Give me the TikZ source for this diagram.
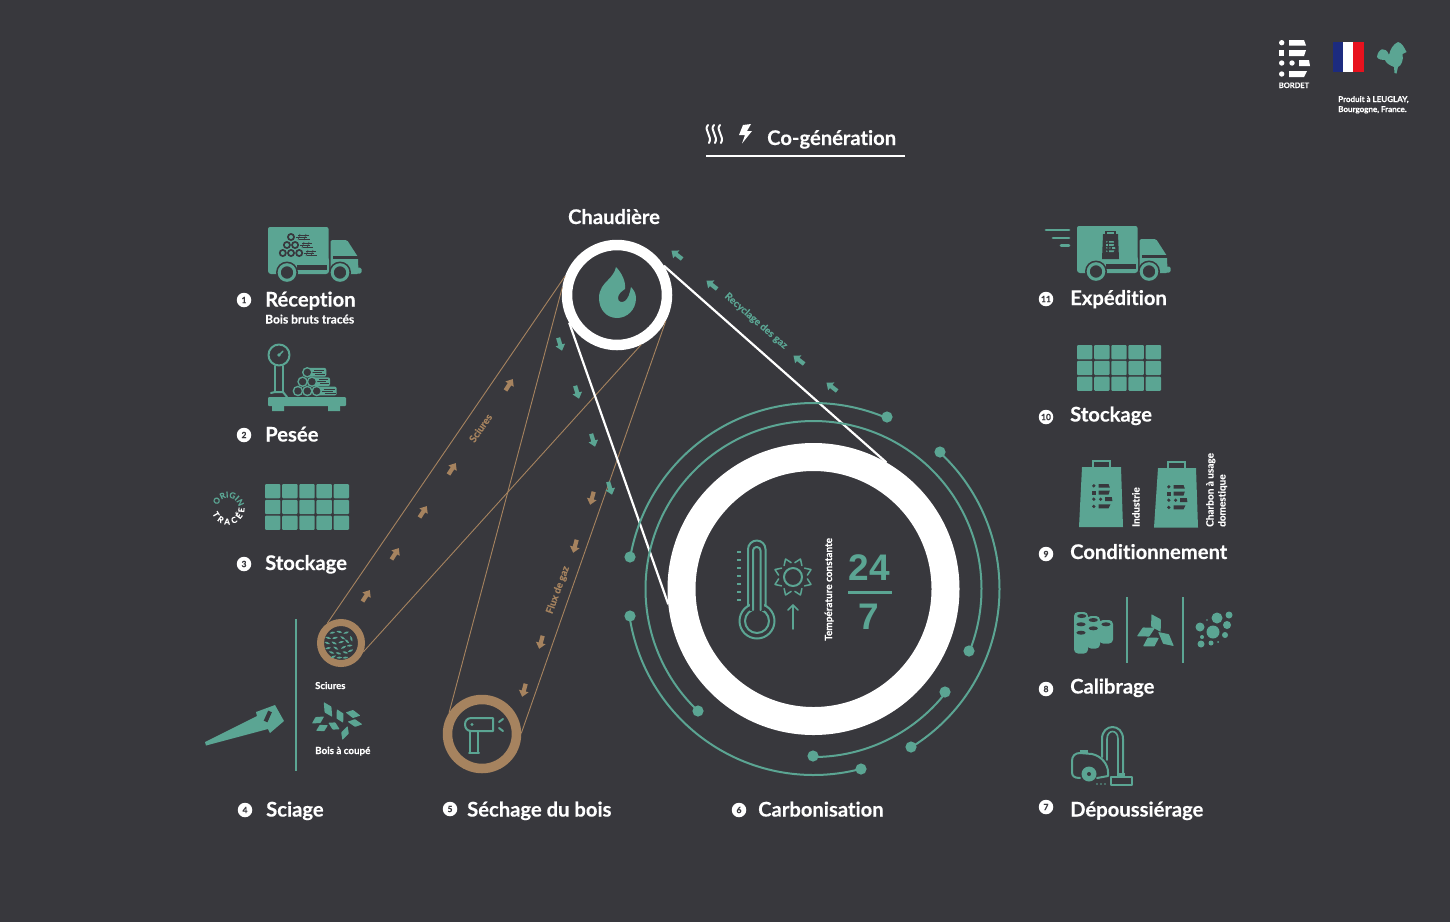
\documentclass[tikz,border=0pt]{standalone}
\usepackage{fontspec}
\setmainfont{Lato}[Ligatures=NoCommon,BoldFeatures={FakeBold=0.25}]
\newfontfamily\helv{Liberation Sans}
\usetikzlibrary{decorations.text}
\definecolor{bgc}{HTML}{38383D}
\definecolor{tl}{HTML}{5BA593}
\definecolor{br}{HTML}{A6835F}
\definecolor{frb}{HTML}{1C2B7F}
\definecolor{frr}{HTML}{E8121E}
\tikzset{
  lab/.style={font=\bfseries\fontsize{20.2}{24}\selectfont,text=white,anchor=base west,inner sep=0pt},
  sublab/.style={font=\bfseries\fontsize{#1}{12}\selectfont,text=white,anchor=base west,inner sep=0pt},
  badge/.style={circle,fill=white,text=bgc,inner sep=0pt,minimum size=14.5pt,font=\bfseries\fontsize{8.5}{9}\selectfont},
  ring/.style={circle,draw=#1,inner sep=0pt,fill=none},
  brline/.style={draw=br,line width=.9pt},
  wline/.style={draw=white,line width=2.2pt},
  tarc/.style={draw=tl,line width=2pt},
  ticon/.style={draw=tl,line width=2pt,line cap=round,line join=round},
  flowtxt/.style={font=\bfseries\fontsize{#1}{12}\selectfont,inner sep=0pt},
  rottxt/.style={rotate=90,anchor=base west,font=\bfseries\fontsize{10}{11}\selectfont,text=white,inner sep=0pt,align=left},
}
% block arrow
\newcommand{\myArrow}[4]{\fill[#4,shift={(#1,#2)},rotate=#3] (-2.1,6.5) -- (-2.1,-1) -- (-5,-1) -- (0,-7) -- (5,-1) -- (2.1,-1) -- (2.1,6.5) -- cycle;}
% leaf
\newcommand{\myLeaf}[6]{\fill[#6,shift={(#1,#2)},rotate=#3,rounded corners=.6pt] (-#4,0) -- (-.1*#4,-#5) -- (#4,0) -- (.1*#4,#5) -- cycle;}
% storage grid
\newcommand{\myGrid}[2]{\foreach \i in {0,1,2,3,4} {\foreach \j in {0,1,2} {\fill[tl,rounded corners=1pt] ({#1+\i*17.15},{#2+\j*15.8}) rectangle ++(15.4,14.3);}}}
% log pile, teal on the dark ground
\newcommand{\myLogs}[3]{\begin{scope}[shift={(#1,#2)},scale=#3]
  \foreach \a/\b/\c in {0/0/19,4.7/9.4/18,9.4/18.7/20} {
    \fill[tl,rounded corners=2pt] (\a,\b-4.4) rectangle ++(\c,8.8);
    \draw[bgc,line width=.8pt] (\a+7,\b-2) -- (\a+\c-2,\b-2) (\a+5,\b) -- (\a+\c-4,\b) (\a+8,\b+2) -- (\a+\c-1,\b+2);
  }
  \foreach \a/\b in {0/0,-4.7/9.4,4.7/9.4,-9.4/18.7,0/18.7,9.4/18.7} {
    \fill[tl] (\a,\b) circle (5.3);
    \fill[bgc] (\a,\b) circle (3.7);
  }
\end{scope}}
% log pile, dark on the teal truck
\newcommand{\myLogsDark}[2]{\begin{scope}[shift={(#1,#2)}]
  \foreach \a/\b/\c in {0/0/12,4/8/11,8/16/11} {
    \draw[bgc,line width=.9pt] (\a+7,\b-2) -- (\a+\c+6,\b-2) (\a+5,\b) -- (\a+\c+4,\b) (\a+8,\b+2) -- (\a+\c+7,\b+2);
    \draw[bgc,line width=.6pt] (\a+9,\b-3) -- (\a+7,\b+3) (\a+\c+3,\b-3) -- (\a+\c+1,\b+3);
  }
  \foreach \a/\b in {0/0,-4.1/8,4.1/8,-8.2/16,0/16,8.2/16} {
    \fill[bgc] (\a,\b) circle (4);
    \fill[tl] (\a,\b) circle (2);
  }
\end{scope}}
% truck
\newcommand{\myTruck}[2]{\begin{scope}[shift={(#1,#2)}]
  \fill[tl,rounded corners=2pt] (0,0) rectangle (60.5,37.5);
  \fill[tl,rounded corners=3pt] (0,30) -- (0,47) -- (61,47) -- (61,30) -- cycle;
  \fill[bgc] (29,38) rectangle (59,43);
  \fill[tl,rounded corners=1.5pt] (62.5,13) -- (79,13) -- (90,30) -- (90.5,47) -- (62.5,47) -- cycle;
  \fill[bgc] (65,29) rectangle (91,32);
  \fill[tl,rounded corners=1.5pt] (82,40.5) rectangle (93.5,46.5);
  \foreach \w in {19,72} { \fill[bgc] (\w,45.5) circle (11); \draw[tl,line width=3pt] (\w,45.5) circle (7.8); }
\end{scope}}
% Bordet logo
\newcommand{\myB}[4]{\begin{scope}[shift={(#1,#2)},scale=#3]
  \fill[#4] (2.7,2.7) circle (2.7) (2.7,34) circle (2.7) (2.7,23) circle (2.7) (13,23) circle (2.7);
  \fill[#4] (0,10) rectangle (5.4,16);
  \fill[#4] (10,0) -- (25,0) -- (27,5.5) -- (10,5.5) -- cycle;
  \fill[#4] (10,10) -- (27,10) -- (25,16) -- (10,16) -- cycle;
  \fill[#4] (20,20) -- (30,20) -- (31,26) -- (20,26) -- cycle;
  \fill[#4] (10,31) -- (28,31) -- (25,37) -- (10,37) -- cycle;
\end{scope}}
\begin{document}
\begin{tikzpicture}[x=1pt,y=-1pt]
\fill[bgc] (0,0) rectangle (1450,922);
\useasboundingbox (0,0) rectangle (1450,922);

% ---- logo block
\myB{1279}{40}{1}{white}
\node[sublab=7.5,anchor=base] (bordet) at (1294,88) {BORDET};
\fill[frb] (1333,42) rectangle (1343,72);
\fill[white] (1343,42) rectangle (1353,72);
\fill[frr] (1353,42) rectangle (1363.5,72);
\fill[tl] (1377,57) .. controls (1378,48) and (1386,46) .. (1389,55) .. controls (1390,50) and (1393,44) .. (1398,42) .. controls (1402,43) and (1404,47) .. (1406.5,52) -- (1402.5,54) .. controls (1404,60) and (1401,66) .. (1398,67) -- (1396.5,73.5) -- (1394.5,73) -- (1394,67) .. controls (1389,65) and (1386,63) .. (1385,60) .. controls (1382,60) and (1379,60) .. (1377,57) -- cycle;
\node[sublab=8] (prod) at (1338,102) {Produit à LEUGLAY,};
\node[sublab=8] (bourg) at (1338,112) {Bourgogne, France.};

% ---- title
\node[lab] (cogen) at (767,145) {Co-génération};
\draw[white,line width=2.6pt] (706,156) -- (905,156);
\foreach \dx in {0,6,12} {\draw[white,line width=2pt,line cap=round] (708+\dx,125) .. controls (703+\dx,130) and (713+\dx,136) .. (709+\dx,143);}
\fill[white] (751,124) -- (743,125) -- (739,135) -- (745,135) -- (742,143.5) -- (752,131) -- (747,131) -- cycle;

% ---- rings (named nodes)
\node[ring=white,line width=10.5pt,minimum size=100pt] (chaud) at (617,295) {};
\node[ring=white,line width=28pt,minimum size=264pt] (carbo) at (813.5,589) {};
\node[ring=br,line width=7pt,minimum size=41pt,fill=bgc] (scu) at (341,643) {};
\node[ring=br,line width=9.5pt,minimum size=69pt,fill=bgc] (sec) at (482,734) {};

% ---- brown connectors
\draw[brline] (chaud.160.9) -- (scu.125.5);
\draw[brline] (chaud.-64.4) -- (scu.-22);
\draw[brline] (chaud.172.6) -- (sec.147);
\draw[brline] (chaud.-28.9) -- (sec.1.4);
% ---- white connectors
\draw[wline] (chaud.32) -- (carbo.60.6);
\draw[wline] (chaud.210.8) -- (carbo.186.3);

% ---- teal circuit arcs
\draw[tarc] plot[domain=-66.7:-170.1,samples=90] ({813.5+186*cos(\x)},{589+186*sin(\x)});
\draw[tarc] plot[domain=-47.2:58.2,samples=90] ({813.5+186*cos(\x)},{589+186*sin(\x)});
\draw[tarc] plot[domain=171.3:75.1,samples=90] ({813.5+186*cos(\x)},{589+186*sin(\x)});
\draw[tarc] plot[domain=133.3:381.7,samples=160] ({813.5+168*cos(\x)},{589+168*sin(\x)});
\draw[tarc] plot[domain=90:37.7,samples=50] ({813.5+168*cos(\x)},{589+168*sin(\x)});
\foreach \px/\py in {887/417,630/557,940/452,911/747,630/616,861/769,698/711,969/651,813/756,945/692}
  {\fill[tl] (\px,\py) circle (5.6);}

% ---- flow arrows
\foreach \px/\py in {366/596,395/554,423/512,452/469,509/385} {\myArrow{\px}{\py}{-33}{br}}
\foreach \px/\py in {592/498,575/546,541/642,524/690} {\myArrow{\px}{\py}{165}{br}}
\foreach \px/\py in {560/344,577/392,593/440,610/488} {\myArrow{\px}{\py}{197}{tl}}
\foreach \px/\py in {677/255,712/285,799/360,832/387} {\myArrow{\px}{\py}{52}{tl}}
\node[flowtxt=10,text=br,rotate=55] (tsc) at (480.5,428) {Sciures};
\node[flowtxt=10,text=br,rotate=70] (tfl) at (558,590) {Flux de gaz};
\node[flowtxt=10,text=tl,rotate=-41] (tre) at (756,321) {Recyclage des gaz};

% ---- Chaudière
\node[lab,anchor=base] (chtxt) at (614,224) {Chaudière};
\fill[tl] (616,267) .. controls (622,273) and (626,282) .. (625,289) .. controls (622,291) and (618,294) .. (618,298) .. controls (618,302) and (622,303) .. (625,301) .. controls (628,299) and (630,293) .. (631,287) .. controls (634,290) and (636,294) .. (636,298) .. controls (636,310) and (627,318) .. (617,318) .. controls (606,318) and (599,309) .. (599,298) .. controls (599,289) and (604,284) .. (608,280) .. controls (612,276) and (615,272) .. (616,267) -- cycle;

% ---- 1 Réception
\myTruck{268}{227}
\myLogsDark{291}{237}
\node[badge] (n1) at (244,300) {1};
\node[lab] (t1) at (265,306.5) {Réception};
\node[sublab=12] (t1b) at (265,323.5) {Bois bruts tracés};

% ---- 2 Pesée
\draw[ticon] (279,355) circle (10.5);
\fill[tl] (279,355) circle (1.8);
\draw[ticon,line width=1.4pt] (279,355) -- (283,351);
\draw[ticon] (275,366) -- (275,392) (283,366) -- (283,392);
\draw[ticon] (271,393) -- (275,392) -- (283,392) -- (287,397);
\fill[tl,rounded corners=1pt] (268,397) rectangle (346,406);
\fill[tl] (272,404) rectangle (284,411) (328,404) rectangle (340,411);
\myLogs{307.3}{372.3}{1}
\node[badge] (n2) at (244,435) {2};
\node[lab] (t2) at (265,441.5) {Pesée};

% ---- 3 Stockage
\myGrid{265}{484}
\path[decorate,decoration={text along path,text align=fit to path,text={|\bfseries\fontsize{8.2}{9}\selectfont\color{tl}|ORIGINE}}] plot[domain=195:345,samples=40] ({228+10.5*cos(\x)},{508+10.5*sin(\x)});
\path[decorate,decoration={text along path,text align=fit to path,text={|\bfseries\fontsize{8.2}{9}\selectfont\color{white}|TRACÉE}}] plot[domain=160:0,samples=40] ({228+16.5*cos(\x)},{508+16.5*sin(\x)});
\node[badge] (n3) at (244,564) {3};
\node[lab] (t3) at (265,570) {Stockage};

% ---- 4 Sciage
\fill[tl] (205,742) -- (257,716) -- (256,712) -- (275,705) -- (284,721) -- (270,733) -- (268,729) -- (206,745.5) -- cycle;
\fill[bgc,rotate around={-24:(268,716)}] (266,711) rectangle (270,722);
\draw[tl,line width=2pt] (296,619) -- (296,771);
\begin{scope}[shift={(341,643)},scale=.86,shift={(-341,-643)}]
\foreach \px/\py/\pa in {331/631/15,339/630/-10,347/631/20,353/638/-70,326/637/-15,334/637/15,343/637/-30,351/646/10,325/643/-20,333/643/-25,341/642/20,348/641/-40,326/649/15,335/649/-30,344/648/30,352/652/25,330/654/-20,338/655/-15,346/654/-15,339/660/5,346/660/10,332/659/25}
  {\myLeaf{\px}{\py}{\pa}{3.8}{1.3}{tl}}
\end{scope}
\node[sublab=9.5] (sc) at (315,689) {Sciures};
\myLeaf{328}{709.5}{-60}{8.5}{4.4}{tl}
\myLeaf{340}{716}{-65}{7.5}{4.2}{tl}
\myLeaf{353}{714}{-12}{7.5}{4}{tl}
\myLeaf{355}{723}{-10}{7.5}{3.8}{tl}
\myLeaf{318}{720}{30}{7}{3.8}{tl}
\myLeaf{322}{728}{25}{6.5}{3.8}{tl}
\myLeaf{334}{726}{-30}{6.5}{3.8}{tl}
\myLeaf{345}{733}{70}{7.5}{3.8}{tl}
\node[sublab=9.8] (bc) at (315,754) {Bois à coupé};
\node[badge] (n4) at (245,810) {4};
\node[lab] (t4) at (266,816.5) {Sciage};

% ---- 5 Séchage
\draw[ticon] (493,718) -- (471,718) .. controls (463,718) and (463,731) .. (471,731) -- (493,731) -- cycle;
\fill[tl] (472,724.5) circle (1.7);
\draw[ticon] (470,731) -- (470,752) (477.5,731) -- (477.5,752) (469,753) -- (479,753);
\draw[ticon] (499,722) -- (503,719) (499,728) -- (503,731);
\node[badge] (n5) at (450,809) {5};
\node[lab] (t5) at (467,816.5) {Séchage du bois};

% ---- 6 Carbonisation
\draw[ticon] (757,621) circle (17.5);
\draw[ticon] (757,621) circle (12);
\fill[bgc] (750,600) rectangle (764,611);
\fill[bgc] (753,606) rectangle (761,612);
\draw[ticon,rounded corners=8.8pt] (748,606) -- (748,540.5) -- (765.5,540.5) -- (765.5,606);
\draw[ticon,rounded corners=3.5pt] (753,610) -- (753,547) -- (760.5,547) -- (760.5,610);
\foreach \k in {0,...,6} {\draw[tl,line width=1.5pt] (737,{552+\k*8}) -- (741,{552+\k*8});}
\draw[ticon] (793,577) circle (9);
\foreach \a in {22.5,67.5,...,337.5} {\draw[ticon,line width=1.5pt,shift={(793,577)},rotate=\a] (-3.8,-14) -- (0,-19.5) -- (3.8,-14);}
\draw[ticon,line width=1.7pt] (793,629) -- (793,605) (788,610) -- (793,605) -- (798,610);
\node[rottxt] (temp) at (832,641) {Température constante};
\node[font=\helv\bfseries\fontsize{37}{40}\selectfont,text=tl,inner sep=0pt] (n24) at (869,568) {24};
\draw[tl,line width=2.8pt] (848,592.5) -- (891.5,592.5);
\node[font=\helv\bfseries\fontsize{37}{40}\selectfont,text=tl,inner sep=0pt] (n7b) at (869,617) {7};
\node[badge] (n6) at (739,810) {6};
\node[lab] (t6) at (758,816.5) {Carbonisation};

% ---- 7 Dépoussiérage
\draw[ticon] (1080,753) .. controls (1075,753) and (1072,756) .. (1072,761) -- (1072,772) .. controls (1072,776) and (1074,778) .. (1080,778);
\draw[ticon] (1080,753) -- (1092,754) .. controls (1102,756) and (1108,765) .. (1108,772) -- (1108,776) -- (1097,778);
\fill[tl] (1080,749.5) rectangle (1088,753);
\fill[tl] (1089,774) circle (7.5);
\fill[bgc] (1089,774) circle (2);
\draw[ticon] (1102,757) -- (1102,739) .. controls (1102,723) and (1123,723) .. (1123,739) -- (1123,773);
\draw[ticon,line width=1.6pt] (1107,760) -- (1107,739) .. controls (1107,729) and (1118,729) .. (1118,739) -- (1118,773);
\draw[ticon] (1111,777) rectangle (1132,785);
\fill[tl] (1117,773) rectangle (1125,778);
\foreach \q in {1097,1101,1105} {\fill[tl] (\q,784) circle (.9);}
\node[badge] (n7) at (1046,807) {7};
\node[lab] (t7) at (1070,816.5) {Dépoussiérage};

% ---- 8 Calibrage
\fill[tl,rounded corners=4pt] (1074,612) rectangle (1088,653.5);
\fill[tl,rounded corners=4pt] (1087,616) rectangle (1100,648.5);
\fill[tl,rounded corners=4pt] (1099,620) rectangle (1113,643.5);
\foreach \ex/\ey in {1081.7/616,1081/624.3,1081/632.7,1093.3/620,1093.3/628.3,1106/624.3}
  {\fill[bgc] (\ex,\ey) ellipse (4.6 and 2);}
\draw[tl,line width=2pt] (1127,597) -- (1127,663);
\draw[tl,line width=2pt] (1183,597) -- (1183,663);
\myLeaf{1156}{623}{-62}{10}{6}{tl}
\myLeaf{1146}{632}{25}{10}{5.5}{tl}
\myLeaf{1151}{642}{28}{9}{5.5}{tl}
\myLeaf{1166}{639}{-42}{10.5}{5.5}{tl}
\foreach \ex/\ey/\er in {1213/632/6.5,1217/618/5.5,1229/615/3.5,1227/625/4,1225/635/3,1200/627/4.5,1202/637/2,1201/644/3.5,1211/643/2.5,1218/642/1,1207/620/.8}
  {\fill[tl] (\ex,\ey) circle (\er);}
\node[badge] (n8) at (1046,689) {8};
\node[lab] (t8) at (1070,693.5) {Calibrage};

% ---- 9 Conditionnement
\fill[tl] (1082,467) -- (1121,467) -- (1123,527) -- (1079,527) -- cycle;
\draw[tl,line width=2pt] (1092.5,467) -- (1092.5,461) -- (1110,461) -- (1110,467);
\myB{1092}{484}{.66}{bgc}
\fill[tl] (1158,468) -- (1196,468) -- (1198,527.5) -- (1154,527.5) -- cycle;
\draw[tl,line width=2pt] (1168,468) -- (1168,462) -- (1185,462) -- (1185,468);
\myB{1167}{485}{.66}{bgc}
\node[rottxt] (ind) at (1139.5,527) {Industrie};
\node[rottxt] (cha) at (1213.5,527) {Charbon à usage};
\node[rottxt] (dom) at (1225.5,527) {domestique};
\node[badge] (n9) at (1046,554) {9};
\node[lab] (t9) at (1070,559) {Conditionnement};

% ---- 10 Stockage
\myGrid{1077}{345}
\node[badge] (n10) at (1046,417) {10};
\node[lab] (t10) at (1070,421.5) {Stockage};

% ---- 11 Expédition
\myTruck{1077}{226}
\fill[bgc] (1103,234) -- (1118,234) -- (1119,259) -- (1102,259) -- cycle;
\draw[bgc,line width=1.2pt] (1106,234) -- (1106,231.5) -- (1115,231.5) -- (1115,234);
\myB{1106}{241}{.3}{tl}
\draw[tl,line width=2.8pt,line cap=round] (1046,230) -- (1069,230) (1053,238) -- (1069,238) (1061,245.5) -- (1069,245.5);
\node[badge] (n11) at (1046,299) {11};
\node[lab] (t11) at (1070,305) {Expédition};
\end{tikzpicture}
\end{document}
